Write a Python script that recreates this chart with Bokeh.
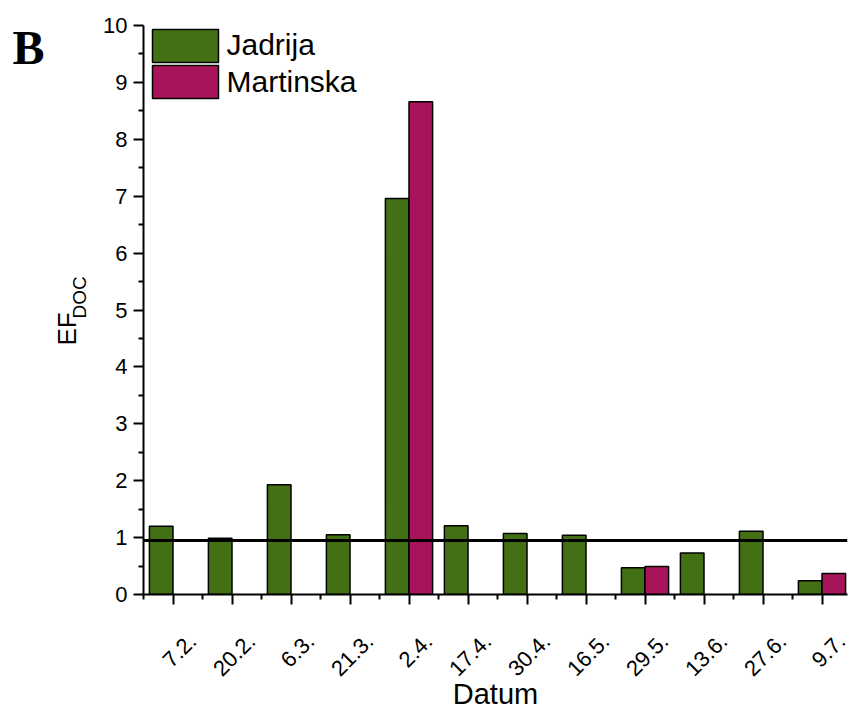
import math
from bokeh.plotting import figure
from bokeh.models import (ColumnDataSource, FixedTicker, Span, Label, Range1d, LinearAxis)
from bokeh.layouts import row
from bokeh.transform import dodge
from bokeh.embed import file_html
from bokeh.resources import INLINE

dates = ["7.2.", "20.2.", "6.3.", "21.3.", "2.4.", "17.4.", "30.4.", "16.5.", "29.5.", "13.6.", "27.6.", "9.7."]
jadrija = [1.20, 0.99, 1.93, 1.05, 6.96, 1.21, 1.07, 1.04, 0.47, 0.73, 1.11, 0.24]
martinska = [float("nan")] * 4 + [8.66] + [float("nan")] * 3 + [0.49, float("nan"), float("nan"), 0.37]
series = ["Jadrija", "Martinska"]
threshold = 0.95
y_ticks = list(range(0, 11))

idx = list(range(len(dates)))
src = ColumnDataSource(dict(x=idx, jad=jadrija, mar=martinska))

FONT = "Liberation Sans"
GREEN = "#437014"
MAGENTA = "#a8145a"

W, H = 849, 709
LW = 95                      # width of the side strip holding the panel letter and y title
FRAME_L, FRAME_T = 143, 25   # frame position on the page
FW, FH = 704, 569
PXU = 59.0
X0 = -0.5
X1 = X0 + FW / PXU
Y0, Y1 = 0, 10

# ---- side strip: panel letter "B" and the y-axis title EF_DOC ----
side = figure(width=LW, height=H, x_range=Range1d(0, LW), y_range=Range1d(0, H),
              min_border_left=0, min_border_right=0, min_border_top=0, min_border_bottom=0,
              x_axis_type=None, y_axis_type=None,
              output_backend="svg", toolbar_location=None)
side.outline_line_color = None
side.xgrid.visible = False
side.ygrid.visible = False
side.add_layout(Label(x=12, y=H - 28, text="B", text_font="Liberation Serif",
                      text_font_size="48px", text_font_style="bold", text_align="left",
                      text_baseline="alphabetic", text_color="black"))
side.add_layout(Label(x=66, y=H - 401, text="EF", angle=math.pi / 2,
                      text_font=FONT, text_font_size="26px", text_align="left",
                      text_baseline="alphabetic", text_color="black"))
side.add_layout(Label(x=79, y=H - 367, text="DOC", angle=math.pi / 2,
                      text_font=FONT, text_font_size="19px", text_align="left",
                      text_baseline="alphabetic", text_color="black"))

# ---- main chart ----
p = figure(width=W - LW, height=H, frame_width=FW, frame_height=FH,
           min_border_left=FRAME_L - LW, min_border_right=W - FRAME_L - FW,
           min_border_top=FRAME_T, min_border_bottom=H - FRAME_T - FH,
           x_range=Range1d(X0, X1), y_range=Range1d(Y0, Y1),
           output_backend="svg", toolbar_location=None)
p.outline_line_color = None
p.xgrid.visible = False
p.ygrid.visible = False

r1 = p.vbar(x=dodge("x", -0.2, range=p.x_range), top="jad", width=0.4, source=src,
            fill_color=GREEN, line_color="black", line_width=1.5)
r2 = p.vbar(x=dodge("x", 0.2, range=p.x_range), top="mar", width=0.4, source=src,
            fill_color=MAGENTA, line_color="black", line_width=1.5)

p.add_layout(Span(location=threshold, dimension="width", line_color="black", line_width=3))

xa = p.xaxis[0]
xa.ticker = FixedTicker(ticks=idx, minor_ticks=[i + 0.5 for i in range(-1, len(dates))])
xa.major_label_overrides = {i: "" for i in idx}
xa.major_label_text_font_size = "0px"
xa.major_label_standoff = 0

ya = p.yaxis[0]
ya.ticker = FixedTicker(ticks=y_ticks, minor_ticks=[t + 0.5 for t in y_ticks[:-1]])

for ax in (xa, ya):
    ax.axis_line_width = 2
    ax.axis_line_color = "black"
    ax.major_tick_line_width = 2
    ax.minor_tick_line_width = 2
    ax.major_tick_out = 10
    ax.major_tick_in = 0
    ax.minor_tick_out = 5
    ax.minor_tick_in = 0
ya.major_label_text_font = FONT
ya.major_label_text_font_size = "22px"
ya.major_label_text_color = "black"
ya.major_label_standoff = 6

# second axis carrying only the rotated date labels (shifted as in the original)
LBL_SHIFT = 0.33
xa2 = LinearAxis(ticker=FixedTicker(ticks=[i + LBL_SHIFT for i in idx]),
                 major_label_overrides={i + LBL_SHIFT: d for i, d in zip(idx, dates)},
                 major_label_orientation=math.pi / 4,
                 axis_line_color=None, major_tick_line_color=None, minor_tick_line_color=None,
                 major_label_text_font=FONT, major_label_text_font_size="22px",
                 major_label_text_color="black", major_label_standoff=27,
                 axis_label="Datum", axis_label_text_font=FONT, axis_label_text_font_size="29px",
                 axis_label_text_font_style="normal", axis_label_text_color="black",
                 axis_label_standoff=-8)
p.add_layout(xa2, "below")

def xd(px):
    return X0 + (px - FRAME_L) / PXU

def yd(py):
    return Y1 - (py - FRAME_T) * (Y1 - Y0) / FH

# legend drawn by hand to match the original box sizes
p.quad(left=[xd(152)], right=[xd(218)], top=[yd(29)], bottom=[yd(62)],
       fill_color=GREEN, line_color="black", line_width=1.5)
p.quad(left=[xd(152)], right=[xd(218)], top=[yd(65)], bottom=[yd(98)],
       fill_color=MAGENTA, line_color="black", line_width=1.5)
p.add_layout(Label(x=xd(226), y=yd(44), text=series[0], text_font=FONT, text_font_size="30px",
                   text_align="left", text_baseline="alphabetic", text_color="black"))
p.add_layout(Label(x=xd(226), y=yd(81), text=series[1], text_font=FONT, text_font_size="30px",
                   text_align="left", text_baseline="alphabetic", text_color="black"))

layout = row(side, p, spacing=0)
open("out.html", "w").write(file_html(layout, INLINE))
